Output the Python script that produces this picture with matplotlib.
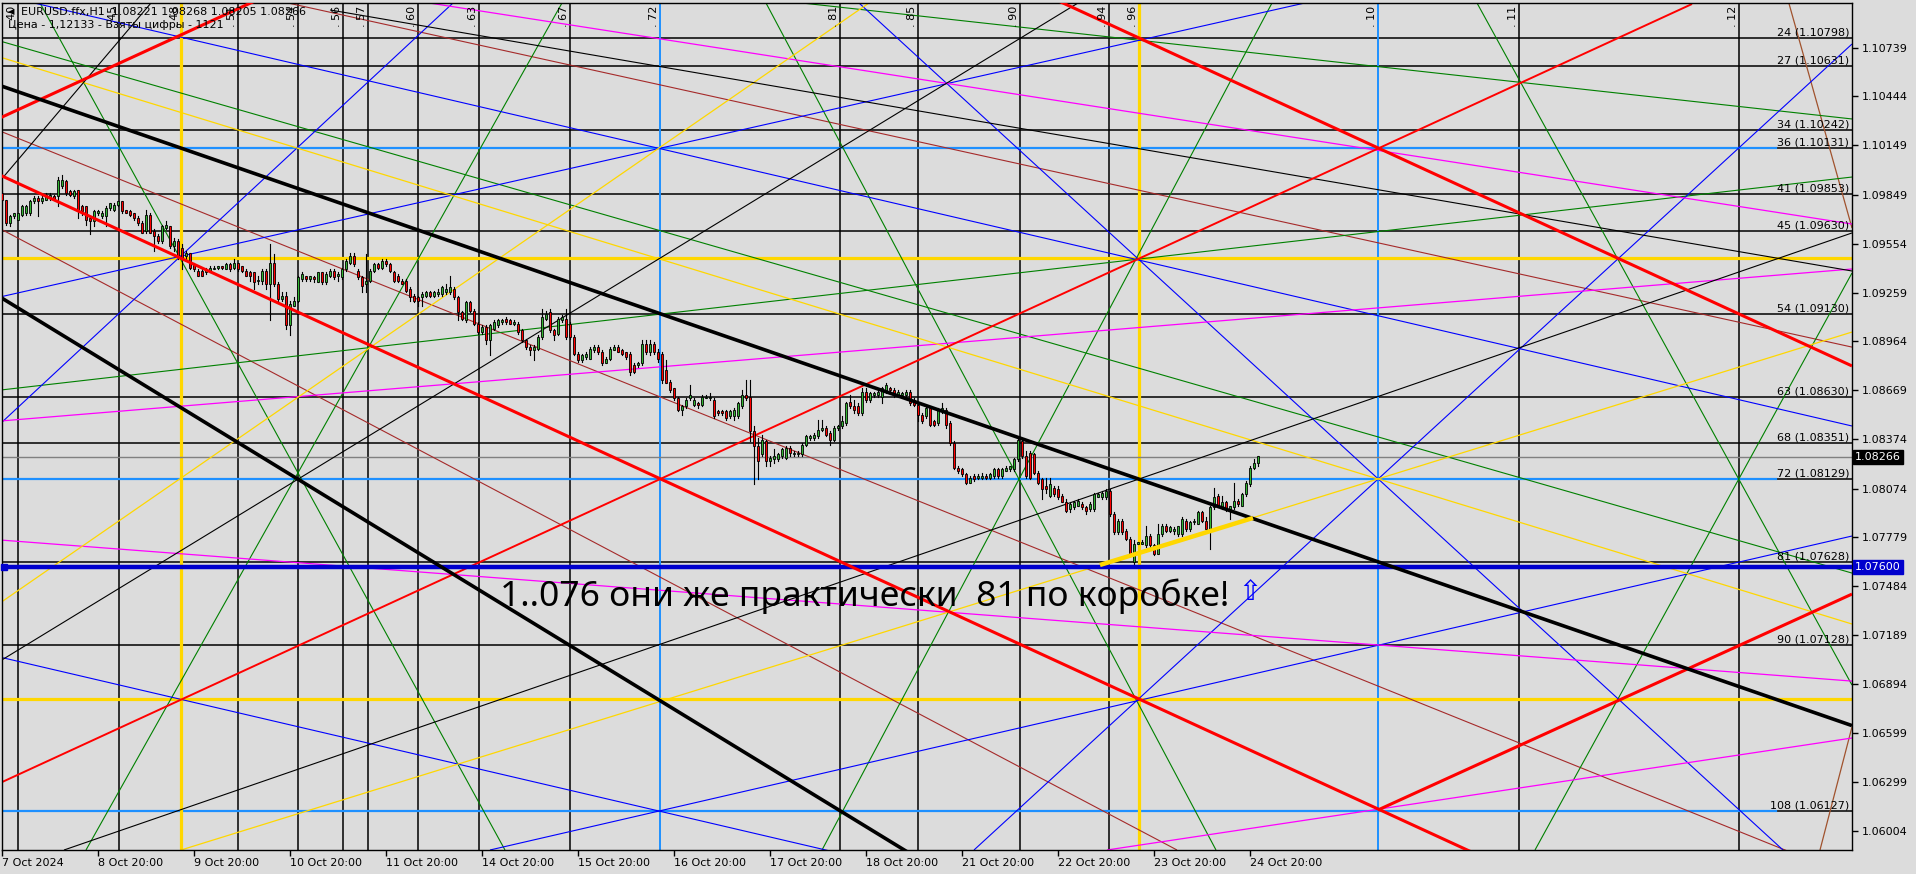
import matplotlib
matplotlib.use('Agg')
import matplotlib.pyplot as plt
import matplotlib.transforms as mtransforms

W, H = 1916, 874
BG = '#dcdcdc'

# ---- candles (EURUSD H1), bar index 0..314 ----
opens = [
    1.0986, 1.0982, 1.0968, 1.0972, 1.0970, 1.0973, 1.0974, 1.0974, 1.0981, 1.0983,
    1.0981, 1.0982, 1.0983, 1.0984, 1.0984, 1.0990, 1.0993, 1.0987, 1.0984, 1.0988,
    1.0978, 1.0978, 1.0971, 1.0969, 1.0974, 1.0972, 1.0972, 1.0977, 1.0976, 1.0979,
    1.0981, 1.0976, 1.0975, 1.0974, 1.0971, 1.0968, 1.0963, 1.0973, 1.0963, 1.0960,
    1.0957, 1.0965, 1.0966, 1.0954, 1.0957, 1.0953, 1.0948, 1.0950, 1.0943, 1.0939,
    1.0939, 1.0938, 1.0939, 1.0940, 1.0941, 1.0942, 1.0940, 1.0943, 1.0941, 1.0944,
    1.0942, 1.0939, 1.0938, 1.0938, 1.0933, 1.0933, 1.0939, 1.0931, 1.0944, 1.0931,
    1.0922, 1.0924, 1.0906, 1.0918, 1.0921, 1.0934, 1.0936, 1.0934, 1.0935, 1.0932,
    1.0938, 1.0932, 1.0936, 1.0939, 1.0936, 1.0935, 1.0940, 1.0944, 1.0948, 1.0939,
    1.0935, 1.0931, 1.0933, 1.0939, 1.0943, 1.0941, 1.0945, 1.0943, 1.0938, 1.0936,
    1.0933, 1.0933, 1.0928, 1.0924, 1.0923, 1.0923, 1.0924, 1.0926, 1.0924, 1.0925,
    1.0925, 1.0926, 1.0926, 1.0928, 1.0923, 1.0914, 1.0909, 1.0920, 1.0915, 1.0907,
    1.0902, 1.0905, 1.0897, 1.0904, 1.0906, 1.0908, 1.0910, 1.0909, 1.0907, 1.0907,
    1.0903, 1.0897, 1.0893, 1.0891, 1.0892, 1.0899, 1.0910, 1.0914, 1.0903, 1.0901,
    1.0909, 1.0910, 1.0907, 1.0899, 1.0889, 1.0885, 1.0887, 1.0886, 1.0891, 1.0893,
    1.0890, 1.0883, 1.0886, 1.0891, 1.0893, 1.0891, 1.0890, 1.0889, 1.0882, 1.0882,
    1.0883, 1.0895, 1.0890, 1.0895, 1.0890, 1.0889, 1.0879, 1.0872, 1.0868, 1.0862,
    1.0855, 1.0857, 1.0862, 1.0858, 1.0859, 1.0858, 1.0862, 1.0862, 1.0861, 1.0854,
    1.0854, 1.0854, 1.0851, 1.0851, 1.0851, 1.0857, 1.0864, 1.0863, 1.0842, 1.0833,
    1.0828, 1.0836, 1.0824, 1.0825, 1.0825, 1.0827, 1.0826, 1.0832, 1.0828, 1.0828,
    1.0828, 1.0834, 1.0838, 1.0838, 1.0839, 1.0843, 1.0844, 1.0841, 1.0837, 1.0844,
    1.0845, 1.0847, 1.0860, 1.0857, 1.0857, 1.0853, 1.0866, 1.0861, 1.0864, 1.0864,
    1.0863, 1.0866, 1.0868, 1.0867, 1.0864, 1.0864, 1.0864, 1.0866, 1.0861, 1.0858,
    1.0852, 1.0851, 1.0856, 1.0848, 1.0847, 1.0854, 1.0855, 1.0847, 1.0835, 1.0820,
    1.0819, 1.0816, 1.0811, 1.0815, 1.0814, 1.0814, 1.0815, 1.0814, 1.0815, 1.0819,
    1.0815, 1.0818, 1.0819, 1.0819, 1.0825, 1.0836, 1.0827, 1.0829, 1.0828, 1.0817,
    1.0813, 1.0809, 1.0803, 1.0808, 1.0807, 1.0803, 1.0799, 1.0795, 1.0796, 1.0797,
    1.0798, 1.0796, 1.0795, 1.0795, 1.0802, 1.0802, 1.0802, 1.0806, 1.0792, 1.0781,
    1.0788, 1.0782, 1.0777, 1.0763, 1.0774, 1.0774, 1.0773, 1.0779, 1.0773, 1.0768,
    1.0780, 1.0785, 1.0782, 1.0782, 1.0780, 1.0780, 1.0788, 1.0783, 1.0787, 1.0786,
    1.0793, 1.0788, 1.0783, 1.0796, 1.0803, 1.0796, 1.0799, 1.0795, 1.0796, 1.0800,
    1.0797, 1.0804, 1.0810, 1.0820, 1.0823]
highs = [
    1.0987, 1.0982, 1.0973, 1.0974, 1.0974, 1.0979, 1.0979, 1.0982, 1.0984, 1.0984,
    1.0984, 1.0986, 1.0986, 1.0985, 1.0996, 1.0997, 1.0994, 1.0988, 1.0988, 1.0988,
    1.0979, 1.0978, 1.0972, 1.0976, 1.0976, 1.0975, 1.0978, 1.0980, 1.0980, 1.0981,
    1.0981, 1.0976, 1.0976, 1.0974, 1.0972, 1.0969, 1.0976, 1.0974, 1.0964, 1.0961,
    1.0967, 1.0969, 1.0966, 1.0959, 1.0958, 1.0955, 1.0951, 1.0950, 1.0944, 1.0940,
    1.0940, 1.0941, 1.0942, 1.0942, 1.0942, 1.0942, 1.0944, 1.0944, 1.0946, 1.0944,
    1.0942, 1.0940, 1.0939, 1.0938, 1.0936, 1.0940, 1.0940, 1.0955, 1.0949, 1.0932,
    1.0926, 1.0926, 1.0921, 1.0923, 1.0936, 1.0938, 1.0936, 1.0936, 1.0936, 1.0938,
    1.0938, 1.0938, 1.0940, 1.0940, 1.0938, 1.0941, 1.0946, 1.0950, 1.0950, 1.0940,
    1.0936, 1.0949, 1.0940, 1.0944, 1.0944, 1.0946, 1.0946, 1.0944, 1.0939, 1.0937,
    1.0934, 1.0934, 1.0929, 1.0925, 1.0924, 1.0926, 1.0927, 1.0927, 1.0927, 1.0928,
    1.0930, 1.0931, 1.0936, 1.0929, 1.0924, 1.0915, 1.0921, 1.0921, 1.0916, 1.0908,
    1.0906, 1.0906, 1.0907, 1.0909, 1.0910, 1.0910, 1.0911, 1.0910, 1.0909, 1.0908,
    1.0904, 1.0898, 1.0894, 1.0894, 1.0900, 1.0916, 1.0915, 1.0916, 1.0904, 1.0911,
    1.0912, 1.0916, 1.0908, 1.0900, 1.0890, 1.0889, 1.0890, 1.0893, 1.0894, 1.0894,
    1.0891, 1.0887, 1.0893, 1.0894, 1.0894, 1.0892, 1.0890, 1.0890, 1.0883, 1.0884,
    1.0897, 1.0897, 1.0897, 1.0896, 1.0892, 1.0890, 1.0885, 1.0873, 1.0868, 1.0863,
    1.0858, 1.0862, 1.0870, 1.0862, 1.0860, 1.0864, 1.0864, 1.0865, 1.0862, 1.0855,
    1.0855, 1.0855, 1.0855, 1.0856, 1.0860, 1.0867, 1.0873, 1.0873, 1.0845, 1.0838,
    1.0840, 1.0837, 1.0827, 1.0831, 1.0829, 1.0832, 1.0833, 1.0833, 1.0830, 1.0830,
    1.0835, 1.0840, 1.0840, 1.0841, 1.0849, 1.0849, 1.0845, 1.0842, 1.0845, 1.0846,
    1.0851, 1.0860, 1.0864, 1.0861, 1.0859, 1.0868, 1.0868, 1.0866, 1.0866, 1.0867,
    1.0869, 1.0871, 1.0869, 1.0868, 1.0867, 1.0866, 1.0867, 1.0867, 1.0862, 1.0859,
    1.0853, 1.0857, 1.0857, 1.0849, 1.0856, 1.0859, 1.0856, 1.0848, 1.0836, 1.0821,
    1.0820, 1.0817, 1.0815, 1.0816, 1.0816, 1.0817, 1.0816, 1.0817, 1.0820, 1.0820,
    1.0820, 1.0821, 1.0821, 1.0826, 1.0838, 1.0837, 1.0830, 1.0830, 1.0829, 1.0818,
    1.0814, 1.0814, 1.0814, 1.0809, 1.0809, 1.0804, 1.0801, 1.0799, 1.0800, 1.0801,
    1.0799, 1.0797, 1.0799, 1.0805, 1.0805, 1.0806, 1.0807, 1.0807, 1.0793, 1.0789,
    1.0789, 1.0783, 1.0778, 1.0776, 1.0775, 1.0776, 1.0785, 1.0780, 1.0774, 1.0786,
    1.0786, 1.0786, 1.0785, 1.0784, 1.0785, 1.0790, 1.0789, 1.0788, 1.0789, 1.0794,
    1.0794, 1.0790, 1.0797, 1.0808, 1.0804, 1.0803, 1.0800, 1.0797, 1.0811, 1.0801,
    1.0805, 1.0812, 1.0821, 1.0825, 1.0827]
lows = [
    1.0981, 1.0967, 1.0966, 1.0971, 1.0970, 1.0972, 1.0973, 1.0973, 1.0980, 1.0972,
    1.0980, 1.0982, 1.0982, 1.0982, 1.0978, 1.0989, 1.0985, 1.0984, 1.0983, 1.0971,
    1.0973, 1.0967, 1.0961, 1.0966, 1.0973, 1.0971, 1.0966, 1.0976, 1.0975, 1.0978,
    1.0974, 1.0974, 1.0972, 1.0970, 1.0967, 1.0962, 1.0962, 1.0962, 1.0951, 1.0956,
    1.0956, 1.0964, 1.0953, 1.0951, 1.0946, 1.0940, 1.0946, 1.0940, 1.0939, 1.0936,
    1.0936, 1.0937, 1.0938, 1.0940, 1.0940, 1.0940, 1.0940, 1.0939, 1.0940, 1.0939,
    1.0938, 1.0936, 1.0933, 1.0928, 1.0931, 1.0931, 1.0928, 1.0909, 1.0930, 1.0920,
    1.0921, 1.0904, 1.0900, 1.0918, 1.0920, 1.0933, 1.0933, 1.0933, 1.0932, 1.0932,
    1.0931, 1.0931, 1.0935, 1.0934, 1.0933, 1.0934, 1.0939, 1.0943, 1.0942, 1.0934,
    1.0926, 1.0926, 1.0932, 1.0938, 1.0940, 1.0940, 1.0942, 1.0938, 1.0932, 1.0932,
    1.0931, 1.0926, 1.0921, 1.0920, 1.0918, 1.0918, 1.0923, 1.0923, 1.0923, 1.0924,
    1.0924, 1.0925, 1.0925, 1.0922, 1.0909, 1.0909, 1.0908, 1.0914, 1.0906, 1.0901,
    1.0901, 1.0895, 1.0888, 1.0903, 1.0905, 1.0907, 1.0907, 1.0907, 1.0906, 1.0901,
    1.0896, 1.0892, 1.0888, 1.0885, 1.0891, 1.0898, 1.0909, 1.0902, 1.0897, 1.0900,
    1.0908, 1.0898, 1.0898, 1.0888, 1.0884, 1.0884, 1.0886, 1.0886, 1.0890, 1.0889,
    1.0882, 1.0883, 1.0885, 1.0891, 1.0890, 1.0888, 1.0886, 1.0876, 1.0877, 1.0881,
    1.0882, 1.0889, 1.0888, 1.0889, 1.0884, 1.0871, 1.0871, 1.0866, 1.0861, 1.0854,
    1.0852, 1.0856, 1.0861, 1.0857, 1.0856, 1.0857, 1.0862, 1.0861, 1.0850, 1.0852,
    1.0852, 1.0849, 1.0850, 1.0849, 1.0850, 1.0856, 1.0861, 1.0836, 1.0810, 1.0813,
    1.0827, 1.0821, 1.0821, 1.0823, 1.0824, 1.0826, 1.0825, 1.0827, 1.0827, 1.0827,
    1.0827, 1.0833, 1.0837, 1.0837, 1.0838, 1.0842, 1.0839, 1.0834, 1.0836, 1.0843,
    1.0844, 1.0846, 1.0856, 1.0853, 1.0852, 1.0852, 1.0860, 1.0860, 1.0863, 1.0863,
    1.0859, 1.0865, 1.0866, 1.0863, 1.0863, 1.0863, 1.0863, 1.0858, 1.0857, 1.0848,
    1.0847, 1.0850, 1.0845, 1.0845, 1.0846, 1.0853, 1.0844, 1.0834, 1.0819, 1.0817,
    1.0815, 1.0810, 1.0811, 1.0812, 1.0813, 1.0813, 1.0813, 1.0813, 1.0814, 1.0814,
    1.0814, 1.0818, 1.0818, 1.0818, 1.0824, 1.0826, 1.0814, 1.0813, 1.0816, 1.0810,
    1.0801, 1.0805, 1.0802, 1.0803, 1.0801, 1.0799, 1.0793, 1.0793, 1.0795, 1.0797,
    1.0795, 1.0792, 1.0794, 1.0794, 1.0802, 1.0801, 1.0801, 1.0791, 1.0780, 1.0780,
    1.0780, 1.0776, 1.0767, 1.0762, 1.0774, 1.0774, 1.0772, 1.0772, 1.0767, 1.0768,
    1.0779, 1.0781, 1.0781, 1.0780, 1.0779, 1.0779, 1.0782, 1.0782, 1.0786, 1.0786,
    1.0787, 1.0782, 1.0771, 1.0795, 1.0796, 1.0795, 1.0794, 1.0789, 1.0795, 1.0797,
    1.0797, 1.0803, 1.0809, 1.0819, 1.0821]
closes = [
    1.0982, 1.0968, 1.0972, 1.0974, 1.0974, 1.0978, 1.0978, 1.0981, 1.0983, 1.0981,
    1.0983, 1.0985, 1.0985, 1.0982, 1.0994, 1.0994, 1.0986, 1.0985, 1.0987, 1.0975,
    1.0975, 1.0970, 1.0969, 1.0975, 1.0975, 1.0974, 1.0977, 1.0980, 1.0979, 1.0981,
    1.0975, 1.0974, 1.0973, 1.0971, 1.0968, 1.0962, 1.0973, 1.0962, 1.0960, 1.0957,
    1.0966, 1.0967, 1.0954, 1.0957, 1.0948, 1.0946, 1.0950, 1.0941, 1.0940, 1.0936,
    1.0936, 1.0940, 1.0941, 1.0941, 1.0942, 1.0941, 1.0943, 1.0940, 1.0944, 1.0940,
    1.0939, 1.0936, 1.0936, 1.0932, 1.0933, 1.0939, 1.0931, 1.0944, 1.0931, 1.0922,
    1.0924, 1.0906, 1.0919, 1.0921, 1.0935, 1.0937, 1.0934, 1.0936, 1.0934, 1.0938,
    1.0932, 1.0937, 1.0939, 1.0935, 1.0937, 1.0940, 1.0945, 1.0948, 1.0943, 1.0935,
    1.0930, 1.0933, 1.0939, 1.0943, 1.0941, 1.0945, 1.0943, 1.0939, 1.0933, 1.0933,
    1.0931, 1.0927, 1.0923, 1.0921, 1.0921, 1.0925, 1.0926, 1.0924, 1.0926, 1.0926,
    1.0929, 1.0928, 1.0929, 1.0923, 1.0914, 1.0910, 1.0920, 1.0915, 1.0907, 1.0902,
    1.0905, 1.0897, 1.0906, 1.0908, 1.0909, 1.0909, 1.0908, 1.0907, 1.0908, 1.0902,
    1.0897, 1.0893, 1.0891, 1.0893, 1.0899, 1.0911, 1.0913, 1.0903, 1.0900, 1.0910,
    1.0911, 1.0899, 1.0899, 1.0889, 1.0885, 1.0888, 1.0889, 1.0892, 1.0893, 1.0890,
    1.0883, 1.0886, 1.0892, 1.0893, 1.0890, 1.0889, 1.0887, 1.0878, 1.0878, 1.0883,
    1.0895, 1.0890, 1.0895, 1.0890, 1.0886, 1.0873, 1.0871, 1.0867, 1.0862, 1.0855,
    1.0857, 1.0861, 1.0864, 1.0861, 1.0858, 1.0863, 1.0863, 1.0863, 1.0851, 1.0853,
    1.0853, 1.0850, 1.0854, 1.0855, 1.0859, 1.0864, 1.0862, 1.0842, 1.0833, 1.0824,
    1.0837, 1.0824, 1.0826, 1.0827, 1.0828, 1.0831, 1.0832, 1.0829, 1.0829, 1.0829,
    1.0834, 1.0839, 1.0839, 1.0840, 1.0843, 1.0844, 1.0840, 1.0837, 1.0844, 1.0845,
    1.0848, 1.0859, 1.0857, 1.0855, 1.0853, 1.0866, 1.0861, 1.0865, 1.0865, 1.0866,
    1.0868, 1.0870, 1.0867, 1.0864, 1.0866, 1.0865, 1.0866, 1.0859, 1.0858, 1.0852,
    1.0848, 1.0856, 1.0846, 1.0846, 1.0855, 1.0856, 1.0846, 1.0835, 1.0820, 1.0818,
    1.0816, 1.0811, 1.0814, 1.0813, 1.0815, 1.0815, 1.0814, 1.0816, 1.0819, 1.0815,
    1.0819, 1.0820, 1.0821, 1.0825, 1.0837, 1.0827, 1.0815, 1.0814, 1.0817, 1.0811,
    1.0807, 1.0807, 1.0810, 1.0804, 1.0802, 1.0799, 1.0794, 1.0798, 1.0799, 1.0800,
    1.0796, 1.0794, 1.0798, 1.0804, 1.0804, 1.0805, 1.0806, 1.0792, 1.0781, 1.0788,
    1.0781, 1.0777, 1.0768, 1.0774, 1.0775, 1.0775, 1.0779, 1.0773, 1.0768, 1.0780,
    1.0785, 1.0782, 1.0784, 1.0783, 1.0785, 1.0789, 1.0783, 1.0787, 1.0788, 1.0793,
    1.0788, 1.0783, 1.0796, 1.0802, 1.0797, 1.0799, 1.0795, 1.0797, 1.0800, 1.0798,
    1.0804, 1.0811, 1.0820, 1.0823, 1.0827]

# ---- axis ----
x_ticks = [0, 24, 48, 72, 96, 120, 144, 168, 192, 216, 240, 264, 288, 312]
x_labels = ['7 Oct 2024', '8 Oct 20:00', '9 Oct 20:00', '10 Oct 20:00', '11 Oct 20:00',
            '14 Oct 20:00', '15 Oct 20:00', '16 Oct 20:00', '17 Oct 20:00', '18 Oct 20:00',
            '21 Oct 20:00', '22 Oct 20:00', '23 Oct 20:00', '24 Oct 20:00']
y_ticks = [1.10739, 1.10444, 1.10149, 1.09849, 1.09554, 1.09259, 1.08964, 1.08669, 1.08374,
           1.08074, 1.07779, 1.07484, 1.07189, 1.06894, 1.06599, 1.06299, 1.06004]

# ---- gann levels (horizontal) ----
level_names = ['24', '27', '34', '36', '41', '45', '54', '63', '68', '72', '81', '90', '108']
level_prices = [1.10798, 1.10631, 1.10242, 1.10131, 1.09853, 1.09630, 1.09130, 1.08630,
                1.08351, 1.08129, 1.07628, 1.07128, 1.06127]
blue_levels = [1.10131, 1.08129, 1.06127]
gold_levels = [1.09467, 1.06801]
bid_price = 1.08266
mark_price = 1.07600

# ---- time lines (vertical), bar index ----
vline_bars = [4, 29.25, 44.75, 59, 74, 85.25, 91.5, 104, 119.25, 142, 164.5, 209.5, 229,
              254.5, 276.75, 284.25, 344, 379.25, 434.25]
vline_names = ['40', '45', '48', '51', '54', '56', '57', '60', '63', '67', '72', '81', '85',
               '90', '94', '96', '10', '11', '12']
gold_vlines = [44.75, 284.25]
blue_vlines = [164.5, 344]

# ---- trend lines: (bar0, price0, bar1, price1) ----
black_thick = [(-0.5, 1.10510, 462.5, 1.06641), (-0.5, 1.09232, 249.5, 1.05535)]
red_thick = [(-0.5, 1.10314, 67, 1.11063), (-0.5, 1.09969, 462.5, 1.04819),
             (344, 1.06131, 462.5, 1.07436), (262, 1.11045, 462.5, 1.08815)]
red_thin = [(-0.5, 1.06294, 422.5, 1.11003)]
blue_thin = [(-0.5, 1.09232, 329, 1.11027), (-0.5, 1.08464, 112.75, 1.11009),
             (-0.5, 1.11057, 462.5, 1.08452), (214.25, 1.11009, 445.25, 1.05889),
             (243, 1.05889, 462.5, 1.10761), (122, 1.05889, 462.5, 1.07787),
             (-0.5, 1.07055, 207, 1.05883)]
green_thin = [(9.5, 1.11009, 125.75, 1.05889), (21, 1.05889, 140, 1.11009),
              (-0.5, 1.08669, 462.5, 1.09957), (-0.5, 1.10779, 462.5, 1.07563),
              (200, 1.11009, 462.5, 1.10308), (191, 1.11009, 303.5, 1.05889),
              (205, 1.05889, 317.5, 1.11009), (383.25, 1.05889, 462.5, 1.09377),
              (368.75, 1.11009, 462.5, 1.06886)]
black_thin = [(15.5, 1.05889, 462.5, 1.09619), (-0.5, 1.07031, 269, 1.11009),
              (82, 1.10967, 462.5, 1.09389), (-0.5, 1.09933, 37.25, 1.11009)]
brown_thin = [(-0.5, 1.10235, 462.5, 1.05726), (-0.5, 1.09645, 293.75, 1.05889),
              (71.5, 1.11009, 462.5, 1.08929)]
sienna_thin = [(446.5, 1.11027, 462.5, 1.09649), (454.5, 1.05889, 462.5, 1.06633)]
gold_thin = [(-0.5, 1.07382, 216.75, 1.11009), (-0.5, 1.10682, 462.5, 1.07255),
             (44.75, 1.05889, 462.5, 1.09020)]
magenta_thin = [(-0.5, 1.08482, 462.5, 1.09401), (102, 1.11027, 462.5, 1.09673),
                (-0.5, 1.07763, 462.5, 1.06910), (276.25, 1.05889, 462.5, 1.06566)]
gold_thick = [(274.5, 1.07612, 312.75, 1.07896)]

header1 = 'EURUSD.ffx,H1  1.08221 1.08268 1.08205 1.08266'
header2 = 'Цена - 1,12133 - Взяты цифры - 1121'
note = '1..076 они же практически  81 по коробке!'

plt.rcParams['font.family'] = ['DejaVu Sans']
fig = plt.figure(figsize=(W / 100, H / 100), dpi=100, facecolor=BG)
ax = fig.add_axes([2 / W, 24 / H, 1850 / W, 847 / H], facecolor=BG)
ax.set_xlim(0, 462.5)
ax.set_ylim(1.05889, 1.11009)


def draw(lines, color, lw, z):
    for b0, p0, b1, p1 in lines:
        ax.plot([b0, b1], [p0, p1], color=color, lw=lw, zorder=z, solid_capstyle='butt')


# horizontal levels
for p in level_prices:
    ax.axhline(p, color='black', lw=1.1, zorder=1.5)
for p in blue_levels:
    ax.plot([0, 443.5], [p, p], color='#1e90ff', lw=1.6, zorder=1.6)
for p in gold_levels:
    ax.axhline(p, color='#ffd700', lw=2.3, zorder=1.7)

# vertical time lines
for b in vline_bars:
    if b in gold_vlines:
        ax.axvline(b, color='#ffd700', lw=2.3, zorder=1.7)
    elif b in blue_vlines:
        ax.axvline(b, color='#1e90ff', lw=1.4, zorder=1.6)
    else:
        ax.axvline(b, color='black', lw=1.1, zorder=1.5)
lab_tr = mtransforms.offset_copy(ax.transData, fig=fig, x=0, y=-22, units='dots')
for b, name in zip(vline_bars, vline_names):
    ax.text(b - 1.6, 1.10995, '. ' + name, rotation=90, ha='center', va='bottom',
            fontsize=8, color='black', zorder=6, clip_on=True, transform=lab_tr)

draw(brown_thin, '#a52a2a', 0.8, 2)
draw(sienna_thin, '#a0522d', 0.9, 2)
draw(green_thin, '#008000', 0.8, 2)
draw(blue_thin, '#0000ff', 0.8, 2)
draw(magenta_thin, '#ff00ff', 0.9, 2)
draw(gold_thin, '#ffd700', 0.9, 2)
draw(black_thin, 'black', 0.8, 2)
draw(red_thin, '#ff0000', 1.4, 2.1)

# bid line and 1.076 mark
ax.axhline(bid_price, color='#808080', lw=1.0, zorder=1.8)
ax.axhline(mark_price, color='#0000cd', lw=3.2, zorder=3.5)
ax.plot([0.6], [mark_price], marker='s', ms=4, color='#0000cd', zorder=3.6, clip_on=False)

# candles
for i in range(len(opens)):
    o, h, l, c = opens[i], highs[i], lows[i], closes[i]
    ax.plot([i, i], [l, h], color='black', lw=0.8, zorder=3)
    up = c >= o
    ax.bar(i, max(abs(c - o), 0.00002), bottom=min(o, c), width=0.72,
           color='#32b432' if up else '#ff0000', edgecolor='black', linewidth=0.6, zorder=3.1)

draw(red_thick, '#ff0000', 2.2, 4)
draw(black_thick, 'black', 2.6, 4)
draw(gold_thick, '#ffd700', 3.2, 4)

# level captions
blend = mtransforms.blended_transform_factory(ax.transAxes, ax.transData)
for name, p in zip(level_names, level_prices):
    ax.text(0.9985, p + 0.00003, f'{name} ({p:.5f})', transform=blend, ha='right',
            va='bottom', fontsize=8, color='black', zorder=6)

# axes styling
ax.yaxis.tick_right()
ax.set_yticks(y_ticks)
ax.set_yticklabels([f'{v:.5f}' for v in y_ticks])
ax.set_xticks(x_ticks)
ax.set_xticklabels(x_labels)
for lab in ax.get_xticklabels():
    lab.set_ha('left')
ax.tick_params(axis='both', direction='out', length=4, width=1, labelsize=8, colors='black')
ax.tick_params(axis='y', pad=3)
ax.tick_params(axis='x', pad=2)
for s in ax.spines.values():
    s.set_color('black')
    s.set_linewidth(1.0)

# price boxes on right scale
ax.text(1.0015, bid_price, f'{bid_price:.5f}', transform=blend, ha='left', va='center',
        fontsize=8, color='white', clip_on=False, zorder=7,
        bbox=dict(facecolor='black', edgecolor='black', pad=1.6))
ax.text(1.0015, mark_price, f'{mark_price:.5f}', transform=blend, ha='left', va='center',
        fontsize=8, color='white', clip_on=False, zorder=7,
        bbox=dict(facecolor='#0000cd', edgecolor='#0000cd', pad=1.6))

# header
fig.text(8 / W, 1 - 12 / H, '\u25c0', fontsize=6, color='black', va='center')
fig.text(21 / W, 1 - 12 / H, header1, fontsize=8, color='black', va='center')
fig.text(8 / W, 1 - 25 / H, header2, fontsize=8, color='black', va='center')

# annotation
ax.text(215.75, 1.07425, note, ha='center', va='center', fontsize=25.5,
        family=['Noto Sans', 'DejaVu Sans'], color='black', zorder=8)
ax.text(312, 1.07450, '\u21e7', ha='center', va='center', fontsize=20, color='#0000ff', zorder=8)

fig.savefig('out.png', dpi=100, facecolor=BG)
